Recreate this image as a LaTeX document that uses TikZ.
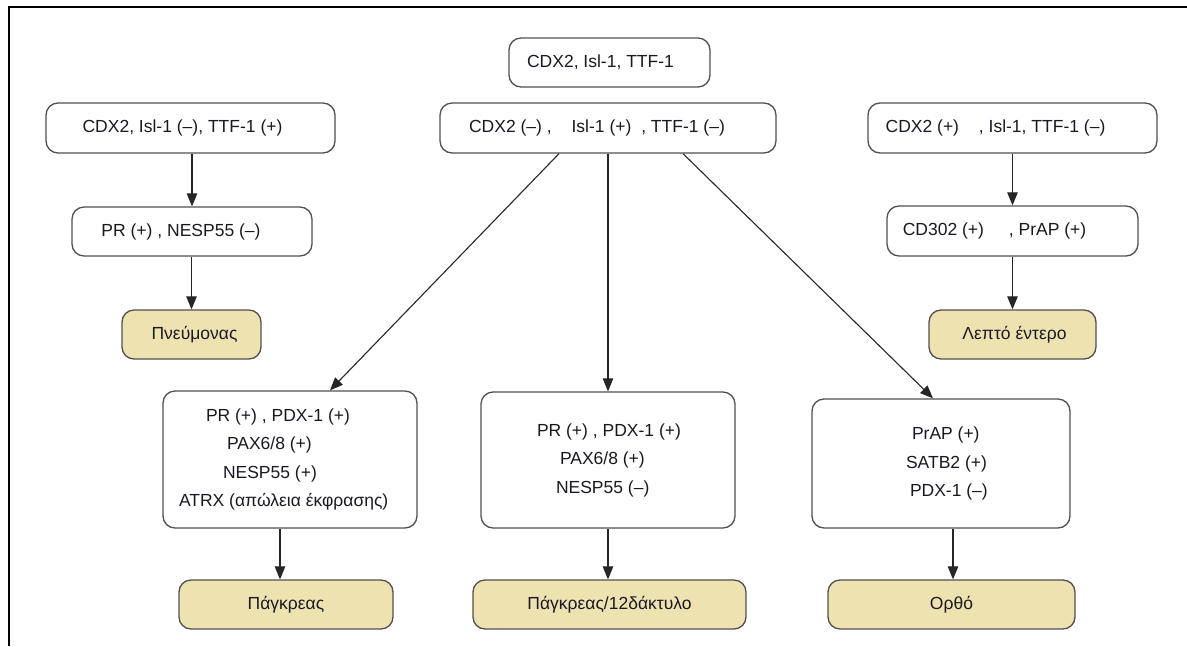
\documentclass[tikz,border=0pt]{standalone}
\usepackage{fontspec}
\setmainfont{Liberation Sans}
\usetikzlibrary{arrows.meta}
\definecolor{tanfill}{RGB}{238,226,176}
\definecolor{boxline}{RGB}{80,80,80}
\definecolor{txt}{RGB}{25,25,35}
\newcommand{\lineat}[3]{\makebox[#1][l]{\hspace*{#2}#3}}
\begin{document}
\begin{tikzpicture}[x=1pt,y=-1pt,
  box/.style={draw=boxline, line width=1.3pt, rounded corners=12pt, fill=white,
    inner sep=0pt, text=txt, font=\fontsize{17.5}{28.5}\selectfont},
  organ/.style={box, fill=tanfill},
  arr/.style={-{Triangle[length=13pt,width=10.5pt]}, line width=1.1pt, draw=black!85}]
\useasboundingbox (0,0) rectangle (1187,646);
\draw[line width=2pt] (9,646) -- (9,7) -- (1187,7);

% top row
\node[box, minimum width=201pt, minimum height=49pt] (top) at (609.5,62.5) {CDX2, Isl-1, TTF-1\hspace*{18pt}};
\node[box, minimum width=336pt, minimum height=50pt] (mid) at (608,128) {CDX2 (–) ,\hspace{15pt} Isl-1 (+)\hspace{5pt} , TTF-1 (–)\hspace*{22pt}};
\node[box, minimum width=289pt, minimum height=50pt] (left) at (190.5,128) {CDX2, Isl-1 (–), TTF-1 (+)\hspace*{16pt}};
\node[box, minimum width=289pt, minimum height=50pt] (right) at (1012.5,128) {CDX2 (+)\hspace{15pt} , Isl-1, TTF-1 (–)\hspace*{34pt}};

% second row
\node[box, minimum width=240pt, minimum height=49pt] (left2) at (192,231.5) {PR (+) , NESP55 (–)\hspace*{22pt}};
\node[box, minimum width=251pt, minimum height=50pt] (right2) at (1012.5,231) {CD302 (+)\hspace{20pt} , PrAP (+)\hspace*{36pt}};

% organs, upper
\node[organ, minimum width=139pt, minimum height=49pt] (lung) at (191.5,334.5) {\hspace*{6pt}Πνεύμονας};
\node[organ, minimum width=167pt, minimum height=49pt] (intest) at (1012.5,334.5) {\hspace*{4pt}Λεπτό έντερο};

% bottom boxes
\node[box, align=center, minimum width=254pt, minimum height=137pt] (bl) at (290,459.5)
  {\lineat{222pt}{27pt}{PR (+) , PDX-1 (+)}\\ \lineat{222pt}{48pt}{PAX6/8 (+)}\\
   \lineat{222pt}{44pt}{NESP55 (+)}\\ \lineat{222pt}{0pt}{ATRX (απώλεια έκφρασης)}};
\node[box, align=center, minimum width=254pt, minimum height=136pt] (bm) at (608,460)
  {\lineat{160pt}{9pt}{PR (+) , PDX-1 (+)}\\ \lineat{160pt}{32pt}{PAX6/8 (+)}\\ \lineat{160pt}{28pt}{NESP55 (–)}};
\node[box, align=center, minimum width=258pt, minimum height=129pt] (br) at (941,463.5)
  {\lineat{100pt}{21pt}{PrAP (+)}\\ \lineat{100pt}{15pt}{SATB2 (+)}\\ \lineat{100pt}{19pt}{PDX-1 (–)}};

% organs, lower
\node[organ, minimum width=214pt, minimum height=49pt] (panc) at (286,604.5) {Πάγκρεας};
\node[organ, minimum width=273pt, minimum height=49pt] (p12) at (609.5,604.5) {Πάγκρεας/12δάκτυλο};
\node[organ, minimum width=247pt, minimum height=49pt] (rect) at (951.5,604.5) {Ορθό};

% connectors
\draw[arr] (left.south -| left2.north) -- (left2.north);
\draw[arr] (left2.south -| lung.north) -- (lung.north);
\draw[arr] (right.south -| right2.north) -- (right2.north);
\draw[arr] (right2.south -| intest.north) -- (intest.north);
\draw[arr] ([xshift=-49pt]mid.south) -- ([xshift=40pt]bl.north);
\draw[arr] (mid.south) -- (mid.south |- bm.north);
\draw[arr] ([xshift=75pt]mid.south) -- ([xshift=-8pt]br.north);
\draw[arr] ([xshift=-10pt]bl.south) -- ([xshift=-10pt]bl.south |- panc.north);
\draw[arr] (bm.south) -- (bm.south |- p12.north);
\draw[arr] ([xshift=12pt]br.south) -- ([xshift=12pt]br.south |- rect.north);
\end{tikzpicture}
\end{document}
